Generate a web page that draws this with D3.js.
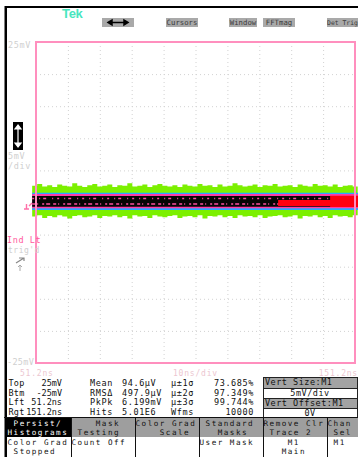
<!DOCTYPE html>
<html>
<head>
<meta charset="utf-8">
<script src="https://cdn.jsdelivr.net/npm/d3@7"></script>
<style>
  body { margin: 0; background: #fff; }
  svg { display: block; }
  text { font-family: "DejaVu Sans Mono", monospace; white-space: pre; }
</style>
</head>
<body>
<script>
// ---- acquisition settings ----
const timeStartNs = 51.2;
const timeEndNs = 151.2;
const timePerDivNs = 10;
const voltMinMv = -25;
const voltMaxMv = 25;
const voltPerDivMv = 5;

// ---- persistence waveform record (mV) ----
const recordStartNs = 50.0;
const recordStepNs = 1.57;
const noiseTopMv = [2.6,2.9,2.5,2.7,2.4,2.8,2.6,2.5,3.0,2.6,2.4,2.7,2.9,2.5,2.6,2.8,2.4,2.7,2.6,3.0,2.5,2.6,2.8,2.4,2.7,2.9,2.6,2.5,2.7,2.4,2.8,2.6,2.5,2.9,2.6,2.7,2.4,2.8,2.5,2.6,3.0,2.7,2.5,2.6,2.8,2.4,2.7,2.6,2.9,2.5,2.6,2.7,2.4,2.8,2.6,2.5,2.9,2.6,2.7,2.5,2.8,2.4,2.6,2.7,2.5,2.6];
const noiseBottomMv = [-2.2,-2.0,-2.4,-2.1,-2.3,-2.0,-2.2,-2.5,-2.1,-2.0,-2.3,-2.2,-2.0,-2.4,-2.1,-2.2,-2.0,-2.3,-2.1,-2.5,-2.0,-2.2,-2.1,-2.4,-2.0,-2.2,-2.3,-2.1,-2.0,-2.4,-2.2,-2.1,-2.3,-2.0,-2.5,-2.1,-2.2,-2.0,-2.3,-2.1,-2.4,-2.0,-2.2,-2.1,-2.3,-2.0,-2.4,-2.2,-2.1,-2.0,-2.3,-2.2,-2.0,-2.5,-2.1,-2.2,-2.0,-2.3,-2.1,-2.4,-2.0,-2.2,-2.1,-2.3,-2.0,-2.2];
// hit-density layers: outer (low), middle, core (high)
const densityTopMv = [1.53, 1.32, 1.01];
const densityBottomMv = [-1.17, -0.90, -0.65];
const streakLevelsMv = [0.62, -0.23];
// color-graded hottest region near the right end
const hotStartNs = [127.1, 143.4];
const hotTopMv = [0.39, 1.05];
const hotBottomMv = [-0.55, -0.72];
const recordEndNs = 152.2;

// ---- labels ----
const voltLabels = ["25mV", "5mV", "/div", "-25mV"];
const timeLabels = ["51.2ns", "10ns/div", "151.2ns"];
const topButtons = ["", "Cursors", "Window", "FFTmag", "Det Trig"];
const statLabelsA = ["Top", "Btm", "Lft", "Rgt"];
const statValuesA = ["25mV", "-25mV", "51.2ns", "151.2ns"];
const statLabelsB = ["Mean", "RMSΔ", "PkPk", "Hits"];
const statValuesB = ["94.6µV", "497.9µV", "6.199mV", "5.01E6"];
const statLabelsC = ["µ±1σ", "µ±2σ", "µ±3σ", "Wfms"];
const statValuesC = ["73.685%", "97.349%", "99.744%", "10000"];
const sideBox = ["Vert Size:M1", "5mV/div", "Vert Offset:M1", "0V"];
const menuTop = [[" Persist/", "Histograms"], ["    Mask", " Testing"], ["Color Grad", "    Scale"], [" Standard", "   Masks"], ["Remove Clr", " Trace 2"], ["Chan", " Sel"]];
const menuBottom = [["Color Grad", " Stopped"], ["Count Off"], [], ["User Mask"], ["    M1", "   Main"], [" M1"]];

const W = 358, H = 457;
const svg = d3.select("body").append("svg").attr("width", W).attr("height", H);

const plot = { left: 36, right: 355, top: 42, bottom: 363 };
const x = d3.scaleLinear().domain([timeStartNs, timeEndNs]).range([plot.left, plot.right]);
const y = d3.scaleLinear().domain([voltMinMv, voltMaxMv]).range([plot.bottom, plot.top]);

// ---- outer black rules ----
svg.append("rect").attr("x", 5).attr("y", 6).attr("width", W - 5).attr("height", 2).attr("fill", "#000");
svg.append("rect").attr("x", 4.5).attr("y", 6).attr("width", 2.5).attr("height", H - 6).attr("fill", "#000");

// ---- Tek logo and top soft buttons ----
svg.append("text").attr("x", 62).attr("y", 18).attr("fill", "#48e6be")
  .style("font-family", "Liberation Sans, sans-serif").style("font-size", "13px").style("font-weight", "bold")
  .attr("letter-spacing", "-0.3").text("Tek");

const btnX = [102, 166, 229, 263, 327];
const btnW = [32, 32, 28, 32, 31];
topButtons.forEach((t, i) => {
  svg.append("rect").attr("x", btnX[i]).attr("y", 18).attr("width", btnW[i]).attr("height", 9).attr("fill", "#a9a9a9");
  svg.append("text").attr("x", btnX[i] + btnW[i] / 2).attr("y", 25.3).attr("text-anchor", "middle")
    .attr("fill", "#3a3a3a").style("font-size", i === 4 ? "6.4px" : "7.3px").text(t);
});
// horizontal-position arrow on first button
svg.append("path").attr("d", "M108,22.5 H128 M108,22.5 l4,-2.5 v5 z M128,22.5 l-4,-2.5 v5 z")
  .attr("stroke", "#000").attr("stroke-width", 1.5).attr("fill", "#000");

// ---- graticule ----
const gridStroke = "#d2d2d2";
const xGrid = d3.axisTop(x)
  .tickValues(d3.range(1, 10).map(i => timeStartNs + i * timePerDivNs))
  .tickSize(-(plot.bottom - plot.top)).tickFormat("");
svg.append("g").attr("transform", `translate(0,${plot.top})`).call(xGrid)
  .call(g => g.select(".domain").remove())
  .selectAll("line").attr("stroke", gridStroke).attr("stroke-dasharray", "1,3");
const yGrid = d3.axisLeft(y)
  .tickValues(d3.range(1, 10).map(i => voltMinMv + i * voltPerDivMv))
  .tickSize(-(plot.right - plot.left)).tickFormat("");
svg.append("g").attr("transform", `translate(${plot.left},0)`).call(yGrid)
  .call(g => g.select(".domain").remove())
  .selectAll("line").attr("stroke", gridStroke).attr("stroke-dasharray", "1,3");

// ---- persistence trace ----
const rec = noiseTopMv.map((v, i) => ({ t: recordStartNs + i * recordStepNs, hi: v, lo: noiseBottomMv[i] }));
const trace = svg.append("g");
trace.append("path").datum(rec)
  .attr("d", d3.area().curve(d3.curveStepAfter).x(d => x(d.t)).y0(d => y(d.lo)).y1(d => y(d.hi)))
  .attr("fill", "#7cf000");

const layerColors = ["#2aa8ff", "#ff3aa8", "#050505"];
densityTopMv.forEach((top, i) => {
  trace.append("path").datum([recordStartNs, recordEndNs])
    .attr("d", d3.area().x(d => x(d)).y0(y(densityBottomMv[i])).y1(y(top)))
    .attr("fill", layerColors[i]);
});
streakLevelsMv.forEach((lv, i) => {
  trace.append("line").attr("x1", x(recordStartNs)).attr("x2", x(recordEndNs))
    .attr("y1", y(lv)).attr("y2", y(lv))
    .attr("stroke", "#ff4fa0").attr("stroke-width", 1.3)
    .attr("stroke-dasharray", i === 0 ? "2,5,1,3,3,6,1,4" : "3,2,1,4,2,2,4,3");
});
const hot = hotStartNs.map((t, i) => ({ t, hi: hotTopMv[i], lo: hotBottomMv[i] }));
hot.push({ t: recordEndNs, hi: hotTopMv[hotTopMv.length - 1], lo: hotBottomMv[hotBottomMv.length - 1] });
trace.append("path").datum(hot)
  .attr("d", d3.area().curve(d3.curveStepAfter).x(d => x(d.t)).y0(d => y(d.lo)).y1(d => y(d.hi)))
  .attr("fill", "#ff0010");

// ---- frame ----
svg.append("rect").attr("x", plot.left).attr("y", plot.top)
  .attr("width", plot.right - plot.left).attr("height", plot.bottom - plot.top)
  .attr("fill", "none").attr("stroke", "#ff8fbe").attr("stroke-width", 2);

// ---- vertical scale labels ----
const dimText = "#cfcfcf";
svg.append("text").attr("x", 8).attr("y", 48).attr("fill", dimText).style("font-size", "8.5px").attr("letter-spacing", "0.6").text(voltLabels[0]);
svg.append("text").attr("x", 8).attr("y", 159).attr("fill", dimText).style("font-size", "8.5px").attr("letter-spacing", "0.6").text(voltLabels[1]);
svg.append("text").attr("x", 8).attr("y", 169).attr("fill", dimText).style("font-size", "8.5px").attr("letter-spacing", "0.6").text(voltLabels[2]);
svg.append("text").attr("x", 7).attr("y", 365).attr("fill", dimText).style("font-size", "8.5px").attr("letter-spacing", "0.3").text(voltLabels[3]);

// vertical-position icon
svg.append("rect").attr("x", 13).attr("y", 122).attr("width", 10).attr("height", 28).attr("fill", "#000");
svg.append("path").attr("d", "M18,125 V147 M18,125 l-3,4 h6 z M18,147 l-3,-4 h6 z")
  .attr("stroke", "#fff").attr("stroke-width", 1.2).attr("fill", "#fff");

// ground / trigger markers
svg.append("path").attr("d", "M24,209 h5 M26.5,204 v5 M29,206 l3,-3")
  .attr("stroke", "#ff6fa8").attr("stroke-width", 1.4).attr("fill", "none");
svg.append("text").attr("x", 7).attr("y", 243).attr("fill", "#ff5a9e").style("font-size", "8.5px").attr("letter-spacing", "0.6").text("Ind Lt");
svg.append("text").attr("x", 8).attr("y", 253).attr("fill", dimText).style("font-size", "8px").attr("letter-spacing", "0.5").text("trig'd");
svg.append("path").attr("d", "M16,263 l8,-5 M19,258 h5 v3").attr("stroke", "#888").attr("stroke-width", 1.2).attr("fill", "none");
svg.append("path").attr("d", "M20,271 v-6 M18,267 l2,-2 l2,2").attr("stroke", "#aaa").attr("stroke-width", 1).attr("fill", "none");

// ---- horizontal scale labels ----
const timeColor = "#ecc6d0";
svg.append("text").attr("x", 20).attr("y", 376).attr("fill", timeColor).style("font-size", "8px").attr("letter-spacing", "0.8").text(timeLabels[0]);
svg.append("text").attr("x", 173).attr("y", 376).attr("fill", timeColor).style("font-size", "8px").attr("letter-spacing", "0.8").text(timeLabels[1]);
svg.append("text").attr("x", 358).attr("y", 376).attr("text-anchor", "end").attr("fill", timeColor).style("font-size", "8px").attr("letter-spacing", "0.8").text(timeLabels[2]);

// ---- statistics readout ----
const rowY = [386, 395.5, 405, 414.5];
const stat = svg.append("g").attr("fill", "#111").style("font-size", "8.5px").attr("letter-spacing", "0.6");
statLabelsA.forEach((t, i) => stat.append("text").attr("x", 8.5).attr("y", rowY[i]).attr("letter-spacing", "0.2").text(t));
statValuesA.forEach((t, i) => stat.append("text").attr("x", 62).attr("y", rowY[i]).attr("text-anchor", "end").attr("letter-spacing", "0").text(t));
statLabelsB.forEach((t, i) => stat.append("text").attr("x", 90).attr("y", rowY[i]).text(t));
statValuesB.forEach((t, i) => stat.append("text").attr("x", 122).attr("y", rowY[i]).text(t));
statLabelsC.forEach((t, i) => stat.append("text").attr("x", 171).attr("y", rowY[i]).text(t));
statValuesC.forEach((t, i) => stat.append("text").attr("x", 254).attr("y", rowY[i]).attr("text-anchor", "end").text(t));

// side readout box
const boxTop = [377, 388, 398, 408];
const boxH = [11, 10, 10, 10];
sideBox.forEach((t, i) => {
  svg.append("rect").attr("x", 263.5).attr("y", boxTop[i] + 0.5).attr("width", 94).attr("height", boxH[i])
    .attr("fill", i % 2 === 0 ? "#a3a3a3" : "#fff").attr("stroke", "#222").attr("stroke-width", 1);
  const cx = i % 2 === 0 ? 265 : 310;
  svg.append("text").attr("x", cx).attr("y", boxTop[i] + 8.3)
    .attr("text-anchor", i % 2 === 0 ? "start" : "middle").attr("letter-spacing", "0.5")
    .attr("fill", "#111").style("font-size", "8.5px").text(t);
});

// ---- bottom menu ----
const menuX = [7, 71, 135, 199, 263, 327, 358];
menuTop.forEach((lines, i) => {
  const x0 = menuX[i], w = menuX[i + 1] - menuX[i];
  svg.append("rect").attr("x", x0).attr("y", 418).attr("width", w).attr("height", 19)
    .attr("fill", i === 0 ? "#000" : "#9e9e9e");
  lines.forEach((t, j) => svg.append("text").attr("x", x0 + 0.5).attr("y", 426 + j * 9)
    .attr("fill", i === 0 ? "#fff" : "#111").style("font-size", "7.6px").attr("letter-spacing", "1.5").text(t));
});
menuBottom.forEach((lines, i) => {
  const x0 = menuX[i];
  lines.forEach((t, j) => svg.append("text").attr("x", x0 + 0.5).attr("y", 445 + j * 9)
    .attr("fill", "#111").style("font-size", "7.6px").attr("letter-spacing", "1.5").text(t));
});
svg.append("line").attr("x1", 4).attr("x2", 358).attr("y1", 417.5).attr("y2", 417.5).attr("stroke", "#111");
menuX.slice(1, 6).forEach(mx => svg.append("line").attr("x1", mx + 0.5).attr("x2", mx + 0.5)
  .attr("y1", 418).attr("y2", H).attr("stroke", "#111"));
</script>
</body>
</html>
